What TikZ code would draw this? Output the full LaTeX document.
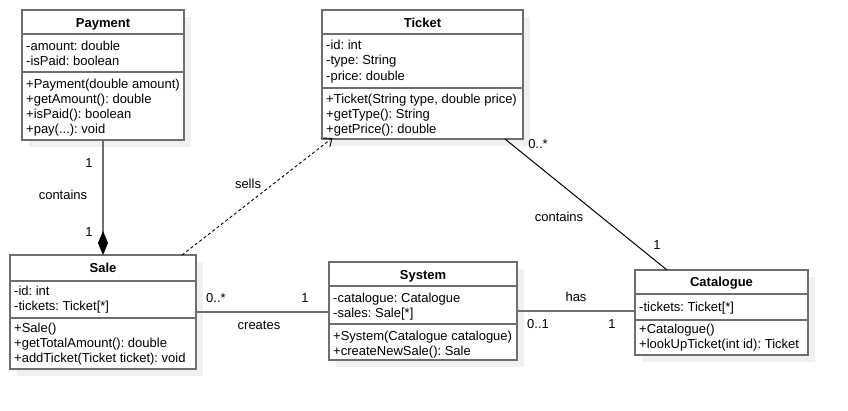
\documentclass[tikz,border=0pt]{standalone}
\usepackage{fontspec}
\setmainfont{Liberation Sans}
\usetikzlibrary{arrows.meta,shadows}
\definecolor{bordc}{RGB}{110,110,110}
\definecolor{shadc}{RGB}{240,240,240}
\frenchspacing
\begin{document}
\begin{tikzpicture}[x=1pt,y=-1pt,
  classbox/.style={rectangle, draw=bordc, line width=2pt, fill=white, inner sep=0pt, outer sep=0pt, anchor=north west,
    drop shadow={shadow xshift=7pt, shadow yshift=-7pt, fill=shadc, opacity=1}},
  sepline/.style={draw=bordc, line width=2pt},
  txt/.style={anchor=base west, inner sep=0pt, font=\fontsize{13}{15}\selectfont},
  ttl/.style={anchor=base, inner sep=0pt, font=\fontsize{13}{15}\selectfont\bfseries},
  lbl/.style={anchor=center, inner sep=0pt, font=\fontsize{13}{15}\selectfont},
  assoc/.style={draw=bordc, line width=2pt},
  thinassoc/.style={draw=black, line width=1pt},
  dep/.style={draw=black, line width=0.9pt, dash pattern=on 3pt off 2.5pt, -{Straight Barb[length=7pt,width=11pt]}},
  compo/.style={draw=bordc, line width=2pt, -{Diamond[length=24pt,width=10pt,color=black,fill=black]}},
]
\useasboundingbox (0,0) rectangle (848,410);

% ---------- Payment ----------
\node[classbox, minimum width=162pt, minimum height=130pt] (payment) at (22,10) {};
\draw[sepline] (22,34) -- (184,34);
\draw[sepline] (22,72) -- (184,72);
\node[ttl] (pt) at (103,27) {Payment};
\node[txt] (pa1) at (26,50) {-amount: double};
\node[txt] (pa2) at (26,65.5) {-isPaid: boolean};
\node[txt] (pm1) at (26,88) {+Payment(double amount)};
\node[txt] (pm2) at (26,103.5) {+getAmount(): double};
\node[txt] (pm3) at (26,118.5) {+isPaid(): boolean};
\node[txt] (pm4) at (26,133) {+pay(...): void};

% ---------- Ticket ----------
\node[classbox, minimum width=201pt, minimum height=129pt] (ticket) at (322,10) {};
\draw[sepline] (322,34) -- (523,34);
\draw[sepline] (322,88) -- (523,88);
\node[ttl] (tt) at (422.5,27) {Ticket};
\node[txt] (ta1) at (326,49) {-id: int};
\node[txt] (ta2) at (326,64.5) {-type: String};
\node[txt] (ta3) at (326,80) {-price: double};
\node[txt] (tm1) at (326,103.5) {+Ticket(String type, double price)};
\node[txt] (tm2) at (326,118.5) {+getType(): String};
\node[txt] (tm3) at (326,133) {+getPrice(): double};

% ---------- Sale ----------
\node[classbox, minimum width=186pt, minimum height=114pt] (sale) at (10,255) {};
\draw[sepline] (10,281) -- (196,281);
\draw[sepline] (10,318) -- (196,318);
\node[ttl] (st) at (103,272.5) {Sale};
\node[txt] (sa1) at (14,295.5) {-id: int};
\node[txt] (sa2) at (14,310) {-tickets: Ticket[*]};
\node[txt] (sm1) at (14,332.5) {+Sale()};
\node[txt] (sm2) at (14,347.5) {+getTotalAmount(): double};
\node[txt] (sm3) at (14,362.5) {+addTicket(Ticket ticket): void};

% ---------- System ----------
\node[classbox, minimum width=188pt, minimum height=98pt] (system) at (329,262) {};
\draw[sepline] (329,286) -- (517,286);
\draw[sepline] (329,324) -- (517,324);
\node[ttl] (yt) at (423,279.5) {System};
\node[txt] (ya1) at (333,302.5) {-catalogue: Catalogue};
\node[txt] (ya2) at (333,317) {-sales: Sale[*]};
\node[txt] (ym1) at (333,340.5) {+System(Catalogue catalogue)};
\node[txt] (ym2) at (333,355) {+createNewSale(): Sale};

% ---------- Catalogue ----------
\node[classbox, minimum width=173pt, minimum height=85pt] (catalogue) at (635,270) {};
\draw[sepline] (635,294) -- (808,294);
\draw[sepline] (635,320) -- (808,320);
\node[ttl] (ct) at (721.5,286.5) {Catalogue};
\node[txt] (ca1) at (639,311.5) {-tickets: Ticket[*]};
\node[txt] (cm1) at (639,333.5) {+Catalogue()};
\node[txt] (cm2) at (639,348.5) {+lookUpTicket(int id): Ticket};

% ---------- Connectors ----------
\draw[compo] (payment.south) -- (sale.north);
\draw[dep, shorten >=-2pt] (sale.north -| 182,0) -- (ticket.south -| 331,0);
\draw[assoc] (sale.east) -- (sale.east -| system.west);
\draw[assoc] (system.east) -- (system.east -| catalogue.west);
\draw[thinassoc] (ticket.south -| 505,0) -- (catalogue.north -| 667,0);

% ---------- Labels ----------
\node[lbl] (l1) at (89,163) {1};
\node[lbl] (l2) at (63,195) {contains};
\node[lbl] (l3) at (89,232) {1};
\node[lbl] (l4) at (248,184) {sells};
\node[lbl] (l5) at (538,144) {0..*};
\node[lbl] (l6) at (559,217) {contains};
\node[lbl] (l7) at (657,245) {1};
\node[lbl] (l8) at (216,298) {0..*};
\node[lbl] (l9) at (305,298) {1};
\node[lbl] (l10) at (259,325) {creates};
\node[lbl] (l11) at (576,297) {has};
\node[lbl] (l12) at (538,324) {0..1};
\node[lbl] (l13) at (612,324) {1};
\end{tikzpicture}
\end{document}
